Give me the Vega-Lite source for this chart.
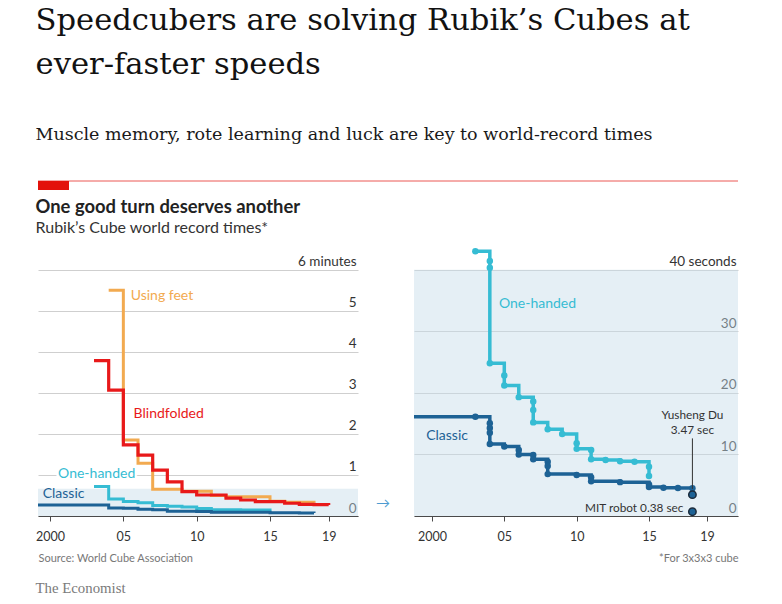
{
  "$schema": "https://vega.github.io/schema/vega-lite/v6.json",
  "padding": {"left": 35, "top": 6, "right": 40, "bottom": 6},
  "autosize": {"type": "pad"},
  "background": "white",
  "config": {
    "view": {"stroke": null},
    "font": "Lato",
    "axis": {"labelFont": "Lato", "titleFont": "Lato"}
  },
  "title": {
    "text": ["Speedcubers are solving Rubik’s Cubes at", "ever-faster speeds"],
    "subtitle": "Muscle memory, rote learning and luck are key to world-record times",
    "anchor": "start",
    "font": "DejaVu Serif", "fontSize": 30.6, "fontWeight": "normal", "lineHeight": 44, "color": "#121212",
    "subtitleFont": "DejaVu Serif", "subtitleFontSize": 17.5, "subtitleColor": "#1a1a1a", "subtitlePadding": 45,
    "offset": 37
  },
  "datasets": {
    "records": [
      {"event": "Using feet", "year": 2004, "sec": 330, "dot": false},
      {"event": "Using feet", "year": 2005, "sec": 111, "dot": false},
      {"event": "Using feet", "year": 2006, "sec": 77, "dot": false},
      {"event": "Using feet", "year": 2007, "sec": 39, "dot": false},
      {"event": "Using feet", "year": 2009, "sec": 36, "dot": false},
      {"event": "Using feet", "year": 2011, "sec": 30, "dot": false},
      {"event": "Using feet", "year": 2012, "sec": 28, "dot": false},
      {"event": "Using feet", "year": 2015, "sec": 21.5, "dot": false},
      {"event": "Using feet", "year": 2016, "sec": 20, "dot": false},
      {"event": "Using feet", "year": 2018, "sec": 19.5, "dot": false},
      {"event": "Blindfolded", "year": 2003, "sec": 227, "dot": false},
      {"event": "Blindfolded", "year": 2004, "sec": 184, "dot": false},
      {"event": "Blindfolded", "year": 2005, "sec": 104, "dot": false},
      {"event": "Blindfolded", "year": 2006, "sec": 89, "dot": false},
      {"event": "Blindfolded", "year": 2007, "sec": 67, "dot": false},
      {"event": "Blindfolded", "year": 2008, "sec": 50, "dot": false},
      {"event": "Blindfolded", "year": 2009, "sec": 35.6, "dot": false},
      {"event": "Blindfolded", "year": 2010, "sec": 30.7, "dot": false},
      {"event": "Blindfolded", "year": 2012, "sec": 26, "dot": false},
      {"event": "Blindfolded", "year": 2013, "sec": 23.4, "dot": false},
      {"event": "Blindfolded", "year": 2014, "sec": 21, "dot": false},
      {"event": "Blindfolded", "year": 2016, "sec": 18.6, "dot": false},
      {"event": "Blindfolded", "year": 2017, "sec": 17, "dot": false},
      {"event": "Blindfolded", "year": 2018, "sec": 16.5, "dot": false},
      {"event": "Blindfolded", "year": 2019, "sec": 16, "dot": false},
      {"event": "One-handed", "year": 2003, "sec": 43.0, "dot": true},
      {"event": "One-handed", "year": 2004, "sec": 41.4, "dot": true},
      {"event": "One-handed", "year": 2004, "sec": 40.3, "dot": true},
      {"event": "One-handed", "year": 2004, "sec": 24.8, "dot": true},
      {"event": "One-handed", "year": 2005, "sec": 22.8, "dot": true},
      {"event": "One-handed", "year": 2005, "sec": 21.2, "dot": true},
      {"event": "One-handed", "year": 2006, "sec": 19.3, "dot": true},
      {"event": "One-handed", "year": 2007, "sec": 18.6, "dot": true},
      {"event": "One-handed", "year": 2007, "sec": 17.2, "dot": true},
      {"event": "One-handed", "year": 2007, "sec": 15.2, "dot": true},
      {"event": "One-handed", "year": 2008, "sec": 14.1, "dot": true},
      {"event": "One-handed", "year": 2009, "sec": 13.3, "dot": true},
      {"event": "One-handed", "year": 2010, "sec": 11.8, "dot": true},
      {"event": "One-handed", "year": 2010, "sec": 10.9, "dot": true},
      {"event": "One-handed", "year": 2011, "sec": 10.7, "dot": true},
      {"event": "One-handed", "year": 2011, "sec": 9.2, "dot": true},
      {"event": "One-handed", "year": 2012, "sec": 9.1, "dot": true},
      {"event": "One-handed", "year": 2013, "sec": 8.9, "dot": true},
      {"event": "One-handed", "year": 2014, "sec": 8.8, "dot": true},
      {"event": "One-handed", "year": 2015, "sec": 8.0, "dot": true},
      {"event": "One-handed", "year": 2015, "sec": 6.5, "dot": true},
      {"event": "Classic", "year": 1998, "sec": 16.1, "dot": false},
      {"event": "Classic", "year": 2003, "sec": 16.1, "dot": true},
      {"event": "Classic", "year": 2004, "sec": 15.07, "dot": true},
      {"event": "Classic", "year": 2004, "sec": 14.3, "dot": true},
      {"event": "Classic", "year": 2004, "sec": 13.5, "dot": true},
      {"event": "Classic", "year": 2004, "sec": 11.7, "dot": true},
      {"event": "Classic", "year": 2005, "sec": 11.3, "dot": true},
      {"event": "Classic", "year": 2006, "sec": 10.7, "dot": true},
      {"event": "Classic", "year": 2006, "sec": 10.0, "dot": true},
      {"event": "Classic", "year": 2007, "sec": 9.9, "dot": true},
      {"event": "Classic", "year": 2007, "sec": 9.2, "dot": true},
      {"event": "Classic", "year": 2008, "sec": 8.8, "dot": true},
      {"event": "Classic", "year": 2008, "sec": 8.1, "dot": true},
      {"event": "Classic", "year": 2008, "sec": 6.8, "dot": true},
      {"event": "Classic", "year": 2010, "sec": 6.67, "dot": true},
      {"event": "Classic", "year": 2011, "sec": 6.3, "dot": true},
      {"event": "Classic", "year": 2011, "sec": 5.66, "dot": true},
      {"event": "Classic", "year": 2013, "sec": 5.5, "dot": true},
      {"event": "Classic", "year": 2015, "sec": 5.1, "dot": true},
      {"event": "Classic", "year": 2015, "sec": 4.7, "dot": true},
      {"event": "Classic", "year": 2016, "sec": 4.6, "dot": true},
      {"event": "Classic", "year": 2017, "sec": 4.55, "dot": true},
      {"event": "Classic", "year": 2018, "sec": 4.5, "dot": true}
    ],
    "leftLabels": [
      {"label": "Using feet", "event": "Using feet", "year": 2005.5, "sec": 322},
      {"label": "Blindfolded", "event": "Blindfolded", "year": 2005.7, "sec": 149},
      {"label": "One-handed", "event": "One-handed", "year": 2000.55, "sec": 61.5},
      {"label": "Classic", "event": "Classic", "year": 1999.5, "sec": 32}
    ],
    "rightLabels": [
      {"label": "One-handed", "event": "One-handed", "year": 2004.63, "sec": 34.5},
      {"label": "Classic", "event": "Classic", "year": 1999.6, "sec": 13.0}
    ],
    "highlights": [
      {"name": "Yusheng Du", "year": 2018, "sec": 3.47},
      {"name": "MIT robot", "year": 2018, "sec": 0.7}
    ]
  },
  "spacing": 7,
  "vconcat": [
    {
      "width": 700,
      "height": 9,
      "data": {"values": [{"from": 0, "to": 1, "tab": 0.0443, "lo": 0, "hi": 1}]},
      "layer": [
        {
          "mark": {"type": "rule", "color": "#e3120b", "strokeWidth": 1, "opacity": 0.7},
          "encoding": {
            "x": {"field": "from", "type": "quantitative", "scale": {"domain": [0, 1]}, "axis": null},
            "x2": {"field": "to"},
            "y": {"field": "hi", "type": "quantitative", "scale": {"domain": [0, 1]}, "axis": null}
          }
        },
        {
          "mark": {"type": "rect", "color": "#e3120b"},
          "encoding": {
            "x": {"field": "from", "type": "quantitative", "scale": {"domain": [0, 1]}, "axis": null},
            "x2": {"field": "tab"},
            "y": {"field": "lo", "type": "quantitative", "scale": {"domain": [0, 1]}, "axis": null},
            "y2": {"field": "hi"}
          }
        }
      ]
    },
    {
      "title": {"text": "The Economist", "orient": "bottom", "anchor": "start", "font": "Liberation Serif", "fontSize": 14.8, "fontWeight": "normal", "color": "#7a7a7a", "offset": 17},
      "vconcat": [
        {
          "title": {
            "text": "One good turn deserves another",
            "subtitle": "Rubik’s Cube world record times*",
            "anchor": "start",
            "font": "Lato", "fontSize": 18.4, "fontWeight": "bold", "color": "#222222",
            "subtitleFont": "Lato", "subtitleFontSize": 16, "subtitleColor": "#333333", "subtitlePadding": 4,
            "offset": 9
          },
          "bounds": "flush",
          "spacing": 56,
          "hconcat": [
            {
              "width": 320,
              "height": 271,
              "encoding": {
                "x": {
                  "field": "year", "type": "quantitative",
                  "scale": {"domain": [1999.18, 2021.0], "nice": false, "zero": false},
                  "axis": {
                    "values": [2000, 2005, 2010, 2015, 2019],
                    "labelExpr": "datum.value == 2000 ? '2000' : (datum.value < 2010 ? '0' + (datum.value - 2000) : '' + (datum.value - 2000))",
                    "grid": false, "domainColor": "#4a4a4a", "domainWidth": 1,
                    "tickColor": "#4a4a4a", "tickSize": 5,
                    "labelFontSize": 12.5, "labelColor": "#333333", "labelPadding": 9,
                    "title": "Source: World Cube Association", "titleAnchor": "start",
                    "titleFontSize": 11, "titleFontWeight": "normal", "titleColor": "#777777", "titlePadding": 10
                  }
                },
                "y": {
                  "field": "sec", "type": "quantitative",
                  "scale": {"domain": [0, 396], "nice": false},
                  "axis": {
                    "orient": "right",
                    "values": [0, 60, 120, 180, 240, 300, 360],
                    "labelExpr": "datum.value == 360 ? '6 minutes' : '' + (datum.value / 60)",
                    "grid": true, "gridColor": "#cfcfcf", "gridWidth": 1,
                    "domain": false, "ticks": false, "tickSize": 0,
                    "labelAlign": "right", "labelBaseline": "alphabetic", "labelPadding": -2, "labelOffset": -4,
                    "labelFontSize": 13.5, "labelColor": "#333333", "title": null
                  }
                }
              },
              "layer": [
                {
                  "data": {"values": [{"sec": 0, "sec2": 40}]},
                  "mark": {"type": "rect", "color": "#c5dbe9", "opacity": 0.45},
                  "encoding": {"x": {"value": 0}, "x2": {"value": "width"}, "y2": {"field": "sec2"}}
                },
                {
                  "data": {"name": "records"},
                  "transform": [{"filter": "datum.event == 'Using feet'"}],
                  "mark": {"type": "line", "interpolate": "step-after", "color": "#f2aa50", "strokeWidth": 3, "clip": true}
                },
                {
                  "data": {"name": "records"},
                  "transform": [{"filter": "datum.event == 'Blindfolded'"}],
                  "mark": {"type": "line", "interpolate": "step-after", "color": "#e8191a", "strokeWidth": 3.2, "clip": true}
                },
                {
                  "data": {"name": "records"},
                  "transform": [{"filter": "datum.event == 'One-handed'"}],
                  "mark": {"type": "line", "interpolate": "step-after", "color": "#36bcd3", "strokeWidth": 3, "clip": true}
                },
                {
                  "data": {"name": "records"},
                  "transform": [{"filter": "datum.event == 'Classic'"}],
                  "mark": {"type": "line", "interpolate": "step-after", "color": "#1d6295", "strokeWidth": 3, "clip": true}
                },
                {
                  "data": {"name": "leftLabels"},
                  "transform": [{"filter": "datum.event == 'One-handed'"}],
                  "mark": {"type": "text", "align": "left", "baseline": "middle", "fontSize": 14, "stroke": "white", "strokeWidth": 5, "color": "white"},
                  "encoding": {"text": {"field": "label"}}
                },
                {
                  "data": {"name": "leftLabels"},
                  "mark": {"type": "text", "align": "left", "baseline": "middle", "fontSize": 14},
                  "encoding": {
                    "text": {"field": "label"},
                    "color": {"field": "event", "type": "nominal", "legend": null,
                      "scale": {"domain": ["Using feet", "Blindfolded", "One-handed", "Classic"], "range": ["#f2aa50", "#e8191a", "#36bcd3", "#1d6295"]}}
                  }
                },
                {
                  "data": {"values": [{"label": "→", "year": 2022.7, "sec": 18}]},
                  "mark": {"type": "text", "align": "center", "baseline": "middle", "fontSize": 14, "color": "#4d9bd1"},
                  "encoding": {"text": {"field": "label"}}
                }
              ]
            },
            {
              "width": 324,
              "height": 271,
              "encoding": {
                "x": {
                  "field": "year", "type": "quantitative",
                  "scale": {"domain": [1998.76, 2021.15], "nice": false, "zero": false},
                  "axis": {
                    "values": [2000, 2005, 2010, 2015, 2019],
                    "labelExpr": "datum.value == 2000 ? '2000' : (datum.value < 2010 ? '0' + (datum.value - 2000) : '' + (datum.value - 2000))",
                    "grid": false, "domainColor": "#4a4a4a", "domainWidth": 1,
                    "tickColor": "#4a4a4a", "tickSize": 5,
                    "labelFontSize": 12.5, "labelColor": "#333333", "labelPadding": 9,
                    "title": "*For 3x3x3 cube", "titleAnchor": "end",
                    "titleFontSize": 11, "titleFontWeight": "normal", "titleColor": "#777777", "titlePadding": 10
                  }
                },
                "y": {
                  "field": "sec", "type": "quantitative",
                  "scale": {"domain": [0, 44], "nice": false},
                  "axis": {
                    "orient": "right",
                    "values": [0, 10, 20, 30, 40],
                    "labelExpr": "datum.value == 40 ? '40 seconds' : datum.label",
                    "grid": true, "gridColor": "#cfcfcf", "gridWidth": 1,
                    "domain": false, "ticks": false, "tickSize": 0,
                    "labelAlign": "right", "labelBaseline": "alphabetic", "labelPadding": -2, "labelOffset": -4,
                    "labelFontSize": 13.5, "labelColor": "#333333", "title": null
                  }
                }
              },
              "layer": [
                {
                  "data": {"values": [{"sec": 0, "sec2": 40}]},
                  "mark": {"type": "rect", "color": "#c5dbe9", "opacity": 0.45},
                  "encoding": {"x": {"value": 0}, "x2": {"value": "width"}, "y2": {"field": "sec2"}}
                },
                {
                  "data": {"name": "records"},
                  "transform": [{"filter": "datum.event == 'One-handed'"}],
                  "mark": {"type": "line", "interpolate": "step-after", "color": "#36bcd3", "strokeWidth": 3.5, "clip": true}
                },
                {
                  "data": {"name": "records"},
                  "transform": [{"filter": "datum.event == 'One-handed' && datum.dot"}],
                  "mark": {"type": "circle", "color": "#36bcd3", "size": 42, "opacity": 1}
                },
                {
                  "data": {"name": "records"},
                  "transform": [{"filter": "datum.event == 'Classic'"}],
                  "mark": {"type": "line", "interpolate": "step-after", "color": "#1d6295", "strokeWidth": 3.5, "clip": true}
                },
                {
                  "data": {"name": "records"},
                  "transform": [{"filter": "datum.event == 'Classic' && datum.dot"}],
                  "mark": {"type": "circle", "color": "#1d6295", "size": 42, "opacity": 1}
                },
                {
                  "data": {"values": [{"year": 2018, "sec": 12.6, "sec2": 4.4}]},
                  "mark": {"type": "rule", "color": "#333333", "strokeWidth": 1},
                  "encoding": {"y2": {"field": "sec2"}}
                },
                {
                  "data": {"name": "highlights"},
                  "mark": {"type": "point", "filled": true, "fill": "#1d6295", "stroke": "#1b2b3b", "strokeWidth": 1.5, "size": 55, "opacity": 1}
                },
                {
                  "data": {"values": [{"label": "Yusheng Du", "year": 2018, "sec": 16.4}, {"label": "3.47 sec", "year": 2018, "sec": 14.0}]},
                  "mark": {"type": "text", "align": "center", "baseline": "middle", "fontSize": 11.8, "color": "#333333"},
                  "encoding": {"text": {"field": "label"}}
                },
                {
                  "data": {"values": [{"label": "MIT robot 0.38 sec", "year": 2018, "sec": 1.3}]},
                  "mark": {"type": "text", "align": "right", "baseline": "middle", "fontSize": 11.8, "color": "#333333", "dx": -9},
                  "encoding": {"text": {"field": "label"}}
                },
                {
                  "data": {"name": "rightLabels"},
                  "mark": {"type": "text", "align": "left", "baseline": "middle", "fontSize": 14},
                  "encoding": {
                    "text": {"field": "label"},
                    "color": {"field": "event", "type": "nominal", "legend": null,
                      "scale": {"domain": ["One-handed", "Classic"], "range": ["#36bcd3", "#1d6295"]}}
                  }
                }
              ]
            }
          ]
        }
      ]
    }
  ]
}
